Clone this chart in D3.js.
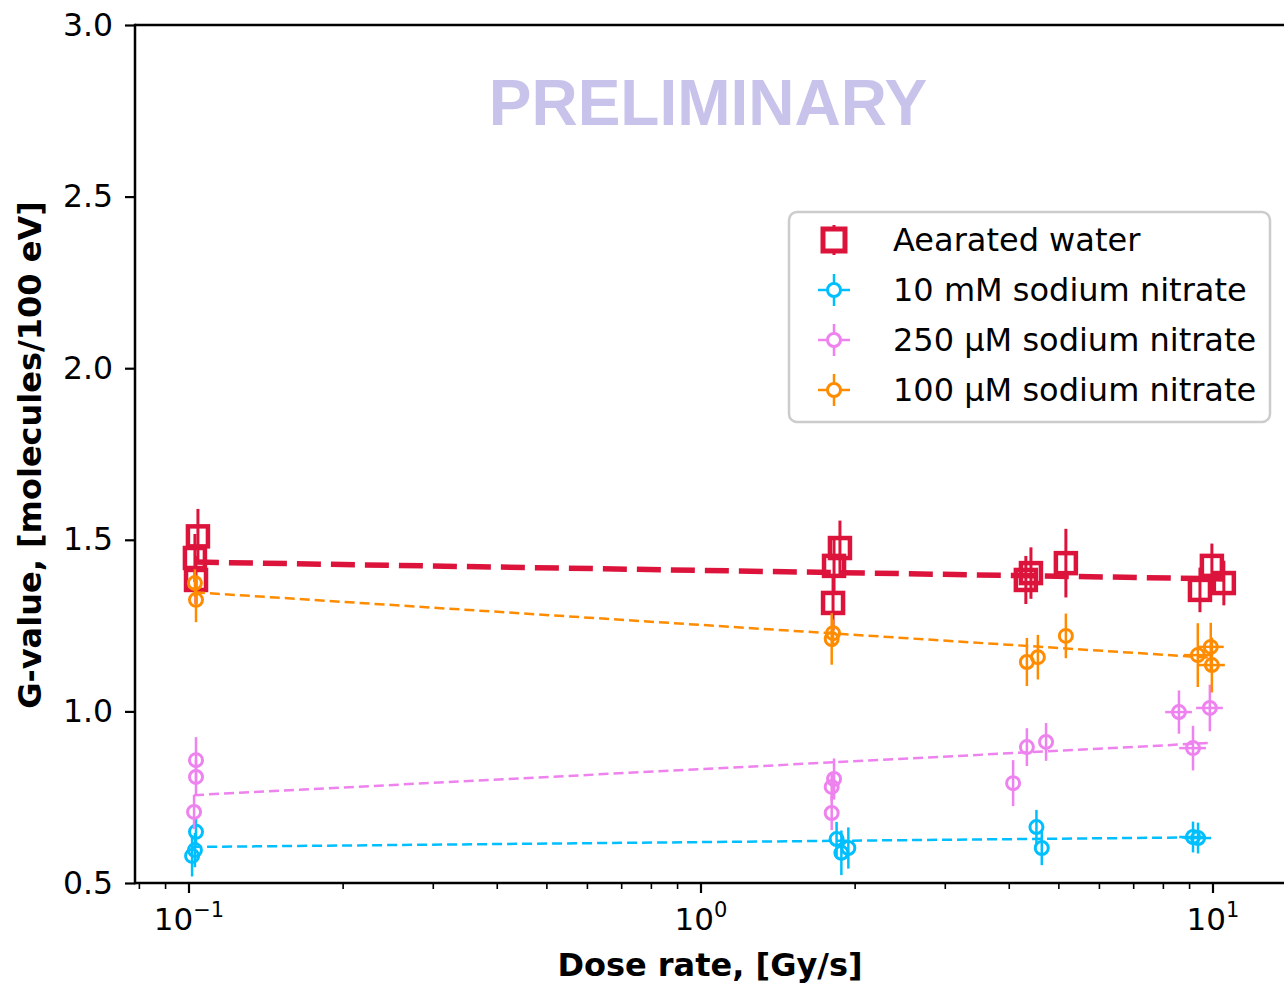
<!DOCTYPE html>
<html lang="en">
<head>
    <meta charset="UTF-8">
    <title>G-value vs dose rate</title>
    <script src="https://d3js.org/d3.v7.min.js"></script>
    <style>
        body { margin: 0; background: #fff; }
        svg { display: block; }
    </style>
</head>
<body>
    <svg width="1284" height="985"></svg>
    <script>
        // series labels (legend order)
        const seriesNames = ["Aearated water", "10 mM sodium nitrate", "250 µM sodium nitrate", "100 µM sodium nitrate"];

        // Aearated water
        const waterDose = [0.1041, 0.1027, 0.1032, 1.868, 1.819, 1.811, 4.31, 4.41, 5.16, 9.43, 9.95, 10.5];
        const waterG    = [1.51, 1.447, 1.383, 1.476, 1.424, 1.316, 1.383, 1.403, 1.432, 1.354, 1.424, 1.374];
        const waterErr  = [0.08, 0.07, 0.07, 0.08, 0.08, 0.08, 0.07, 0.075, 0.1, 0.065, 0.065, 0.065];
        const waterFit  = [1.435, 1.386];

        // 10 mM sodium nitrate
        const blueDose = [0.1032, 0.1027, 0.1014, 1.84, 1.88, 1.94, 4.52, 4.63, 9.14, 9.35];
        const blueG    = [0.649, 0.596, 0.579, 0.628, 0.588, 0.602, 0.663, 0.602, 0.634, 0.631];
        const blueErr  = [0.04, 0.05, 0.06, 0.05, 0.065, 0.06, 0.05, 0.05, 0.045, 0.045];
        const blueFit  = [0.605, 0.633];

        // 250 uM sodium nitrate
        const pinkDose = [0.1032, 0.1032, 0.1023, 1.819, 1.80, 1.80, 4.07, 4.33, 4.72, 8.58, 9.86, 9.14];
        const pinkG    = [0.858, 0.809, 0.707, 0.803, 0.78, 0.704, 0.791, 0.896, 0.911, 0.998, 1.01, 0.893];
        const pinkErr  = [0.067, 0.05, 0.05, 0.06, 0.04, 0.05, 0.067, 0.055, 0.055, 0.063, 0.068, 0.065];
        const pinkFit  = [0.756, 0.908];

        // 100 uM sodium nitrate
        const orangeDose = [0.1027, 0.1032, 1.811, 1.80, 4.33, 4.55, 5.16, 9.34, 9.9, 9.95];
        const orangeG    = [1.374, 1.325, 1.228, 1.211, 1.144, 1.158, 1.22, 1.164, 1.188, 1.135];
        const orangeErr  = [0.04, 0.065, 0.04, 0.075, 0.07, 0.065, 0.065, 0.093, 0.07, 0.08];
        const orangeFit  = [1.347, 1.156];

        const yTicks = [0.5, 1.0, 1.5, 2.0, 2.5, 3.0];
        const xTicks = [0.1, 1, 10];
        const xTickExp = ["\u22121", "0", "1"];

        const W = 1284, H = 985;
        const mLeft = 135, mTop = 25, mBottom = 883, mRight = 1300;

        const x = d3.scaleLog().domain([0.1, 10]).range([189, 1213]);
        x.domain([x.invert(mLeft), x.invert(mRight)]).range([mLeft, mRight]);
        const y = d3.scaleLinear().domain([0.5, 3.0]).range([mBottom, mTop]);

        const svg = d3.select("svg");
        const font = "DejaVu Sans, sans-serif";

        svg.append("defs").append("clipPath").attr("id", "plot")
            .append("rect").attr("x", mLeft).attr("y", mTop).attr("width", mRight - mLeft).attr("height", mBottom - mTop);

        // watermark
        svg.append("text")
            .attr("x", 708).attr("y", 125)
            .attr("text-anchor", "middle")
            .attr("font-family", "Liberation Sans, Arial, sans-serif")
            .attr("font-weight", "bold")
            .attr("font-size", 64)
            .attr("fill", "#c8c3eb")
            .text("PRELIMINARY");

        const plot = svg.append("g").attr("clip-path", "url(#plot)");

        function drawSeries(dose, g, err, fit, color, shape) {
            const pts = dose.map((d, i) => ({ d, g: g[i], e: err[i] }));
            const big = shape === "square";
            const eb = plot.append("g").attr("stroke", color).attr("stroke-width", big ? 3 : 2.5);
            // vertical error bars
            eb.selectAll("line.v").data(pts).enter().append("line")
                .attr("x1", p => x(p.d)).attr("x2", p => x(p.d))
                .attr("y1", p => y(p.g - p.e)).attr("y2", p => y(p.g + p.e));
            // small horizontal bars (dose uncertainty) on the high dose points
            eb.selectAll("line.h").data(pts.filter(p => p.d > 8 && !big)).enter().append("line")
                .attr("x1", p => x(p.d * 0.94)).attr("x2", p => x(p.d * 1.06))
                .attr("y1", p => y(p.g)).attr("y2", p => y(p.g));

            const lo = d3.min(dose), hi = d3.max(dose);
            plot.append("line")
                .attr("x1", x(lo)).attr("x2", x(hi))
                .attr("y1", y(fit[0])).attr("y2", y(fit[1]))
                .attr("stroke", color)
                .attr("stroke-width", big ? 5.5 : 2.5)
                .attr("stroke-dasharray", big ? "24 10" : "10 5");

            if (big) {
                plot.append("g").selectAll("rect").data(pts).enter().append("rect")
                    .attr("x", p => x(p.d) - 10).attr("y", p => y(p.g) - 10)
                    .attr("width", 20).attr("height", 20)
                    .attr("fill", "none").attr("stroke", color).attr("stroke-width", 4.5);
            } else {
                plot.append("g").selectAll("circle").data(pts).enter().append("circle")
                    .attr("cx", p => x(p.d)).attr("cy", p => y(p.g)).attr("r", 6.5)
                    .attr("fill", "none").attr("stroke", color).attr("stroke-width", 3);
            }
        }

        const colors = ["#dc143c", "#00bfff", "#ee82ee", "#ff8c00"];
        drawSeries(waterDose, waterG, waterErr, waterFit, colors[0], "square");
        drawSeries(blueDose, blueG, blueErr, blueFit, colors[1], "circle");
        drawSeries(pinkDose, pinkG, pinkErr, pinkFit, colors[2], "circle");
        drawSeries(orangeDose, orangeG, orangeErr, orangeFit, colors[3], "circle");

        // spines
        const ax = svg.append("g").attr("stroke", "#000").attr("stroke-width", 2.5).attr("fill", "none");
        ax.append("line").attr("x1", mLeft).attr("x2", W).attr("y1", mTop).attr("y2", mTop);
        ax.append("line").attr("x1", mLeft).attr("x2", W).attr("y1", mBottom).attr("y2", mBottom);
        ax.append("line").attr("x1", mLeft).attr("x2", mLeft).attr("y1", mTop - 1.25).attr("y2", mBottom + 1.25);

        // y axis
        const yAxis = svg.append("g").attr("transform", `translate(${mLeft},0)`)
            .call(d3.axisLeft(y).tickValues(yTicks).tickFormat(d3.format(".1f")).tickSize(10).tickPadding(12));
        yAxis.select(".domain").remove();
        yAxis.selectAll("line").attr("stroke-width", 2.2);
        yAxis.selectAll("text").attr("font-family", font).attr("font-size", 31.5).attr("fill", "#000");

        // x axis: majors, minors
        const minors = [];
        [0.01, 0.1, 1, 10].forEach(b => { for (let k = 2; k <= 9; k++) minors.push(b * k); });
        const xdom = x.domain();
        const xa = svg.append("g").attr("stroke", "#000");
        xa.selectAll("line.mi").data(minors.filter(v => v >= xdom[0] && v <= 15)).enter().append("line")
            .attr("x1", d => x(d)).attr("x2", d => x(d))
            .attr("y1", mBottom).attr("y2", mBottom + 6).attr("stroke-width", 1.6);
        xa.selectAll("line.ma").data(xTicks).enter().append("line")
            .attr("x1", d => x(d)).attr("x2", d => x(d))
            .attr("y1", mBottom).attr("y2", mBottom + 10).attr("stroke-width", 2.2);

        const xl = svg.append("g").selectAll("text").data(xTicks).enter().append("text")
            .attr("x", d => x(d)).attr("y", 930)
            .attr("text-anchor", "middle")
            .attr("font-family", font).attr("font-size", 31).attr("fill", "#000");
        xl.append("tspan").text("10");
        xl.append("tspan").attr("dy", -13).attr("font-size", 21).text((d, i) => xTickExp[i]);

        // axis titles
        svg.append("text")
            .attr("x", 710).attr("y", 976)
            .attr("text-anchor", "middle")
            .attr("font-family", font).attr("font-weight", "bold").attr("font-size", 32)
            .text("Dose rate, [Gy/s]");
        svg.append("text")
            .attr("transform", "translate(41,455) rotate(-90)")
            .attr("text-anchor", "middle")
            .attr("font-family", font).attr("font-weight", "bold").attr("font-size", 32)
            .text("G-value, [molecules/100 eV]");

        // legend
        const lg = svg.append("g");
        lg.append("rect")
            .attr("x", 789).attr("y", 212).attr("width", 481).attr("height", 210)
            .attr("rx", 8).attr("fill", "#fff").attr("fill-opacity", 0.8)
            .attr("stroke", "#cccccc").attr("stroke-width", 2.5);
        const rowY = i => 240 + i * 50;
        seriesNames.forEach((name, i) => {
            const cy = rowY(i), cx = 834;
            const c = colors[i];
            if (i === 0) {
                lg.append("line").attr("x1", cx).attr("x2", cx).attr("y1", cy - 15).attr("y2", cy + 15)
                    .attr("stroke", c).attr("stroke-width", 3);
                lg.append("rect").attr("x", cx - 11).attr("y", cy - 11).attr("width", 22).attr("height", 22)
                    .attr("fill", "#fff").attr("stroke", c).attr("stroke-width", 5);
            } else {
                lg.append("line").attr("x1", cx).attr("x2", cx).attr("y1", cy - 16).attr("y2", cy + 16)
                    .attr("stroke", c).attr("stroke-width", 2.5);
                lg.append("line").attr("x1", cx - 16).attr("x2", cx + 16).attr("y1", cy).attr("y2", cy)
                    .attr("stroke", c).attr("stroke-width", 2.5);
                lg.append("circle").attr("cx", cx).attr("cy", cy).attr("r", 6.5)
                    .attr("fill", "#fff").attr("stroke", c).attr("stroke-width", 3);
            }
            lg.append("text").attr("x", 893).attr("y", cy + 11)
                .attr("font-family", font).attr("font-size", 32).attr("fill", "#000")
                .text(name);
        });
    </script>
</body>
</html>
